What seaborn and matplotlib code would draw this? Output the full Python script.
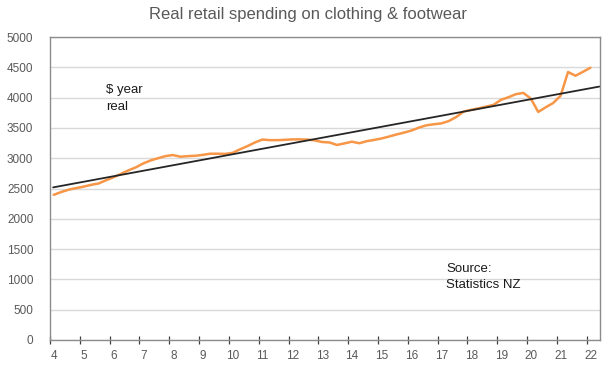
import numpy as np
import pandas as pd
import matplotlib
matplotlib.use("Agg")
import matplotlib.pyplot as plt
import matplotlib.transforms as mtransforms
import seaborn as sns

# Real retail spending on clothing & footwear, $ per year (real), quarterly
first_quarter = 4.125          # mid-point of 2004 Q1 on a two-digit year axis
spending = [
    2395, 2442, 2480, 2506, 2530, 2560, 2582, 2635, 2684, 2740,
    2798, 2848, 2913, 2963, 3000, 3035, 3052, 3024, 3034, 3040,
    3055, 3074, 3074, 3071, 3088, 3147, 3200, 3260, 3308, 3298,
    3298, 3303, 3310, 3311, 3307, 3295, 3267, 3260, 3218, 3244,
    3272, 3247, 3281, 3302, 3326, 3358, 3392, 3422, 3457, 3505,
    3543, 3560, 3574, 3613, 3680, 3770, 3798, 3823, 3851, 3880,
    3963, 4006, 4056, 4078, 3985, 3763, 3840, 3910, 4030, 4422,
    4361, 4425, 4493,
]
year_ticks = list(range(4, 23))
y_ticks = list(range(0, 5001, 500))

periods = first_quarter + 0.25 * np.arange(len(spending))
df = pd.DataFrame({"year": periods, "spending": spending})

# linear trend through the series, extended to the right edge
slope, intercept = np.polyfit(df["year"], df["spending"], 1)
trend_x = np.array([df["year"].iloc[0] - 0.02, 22.42])
trend = pd.DataFrame({"year": trend_x, "spending": intercept + slope * trend_x})

sns.set_theme(style="white")
plt.rcParams["font.family"] = ["Liberation Sans", "DejaVu Sans"]

fig = plt.figure(figsize=(6.02, 3.67), dpi=100)
ax = fig.add_axes([50 / 602, 1 - 340 / 367, 549.5 / 602, 303 / 367])

grey_text = "#595959"
axis_grey = "#8c8c8c"

ax.set_xlim(4, 22.43)
ax.set_ylim(0, 5000)
ax.set_yticks(y_ticks)
ax.set_xticks(year_ticks)
ax.set_xticklabels([str(t) for t in year_ticks])
ax.grid(axis="y", color="#d9d9d9", linewidth=1.0)
ax.set_axisbelow(True)

sns.lineplot(data=df, x="year", y="spending", ax=ax, color="#f79646",
             linewidth=1.8, zorder=3)
sns.lineplot(data=trend, x="year", y="spending", ax=ax, color="#262626",
             linewidth=1.3, zorder=4)

ax.set_xlabel("")
ax.set_ylabel("")

for side in ["left", "right", "top", "bottom"]:
    ax.spines[side].set_visible(True)
    ax.spines[side].set_color(axis_grey)
    ax.spines[side].set_linewidth(1.0)

ax.tick_params(axis="y", length=0, pad=12, labelsize=8.5, labelcolor=grey_text)
ax.tick_params(axis="x", direction="inout", length=6, width=0.9,
               color="#404040", pad=4, labelsize=8.5, labelcolor=grey_text,
               bottom=True)

shift = mtransforms.ScaledTranslation(4 / 100, 0, fig.dpi_scale_trans)
for lab in ax.get_xticklabels():
    lab.set_transform(lab.get_transform() + shift)

fig.text(308 / 602, 1 - 14 / 367, "Real retail spending on clothing & footwear",
         ha="center", va="center", fontsize=12, color=grey_text)

ax.text(106 / 602, 1 - 84 / 367, "$ year\nreal", transform=fig.transFigure,
        ha="left", va="top", fontsize=9.5, color="#1a1a1a", linespacing=1.5)
ax.text(446 / 602, 1 - 263 / 367, "Source:\nStatistics NZ",
        transform=fig.transFigure, ha="left", va="top", fontsize=9.5,
        color="#1a1a1a", linespacing=1.45)

fig.savefig("out.png", dpi=100, facecolor="white")
